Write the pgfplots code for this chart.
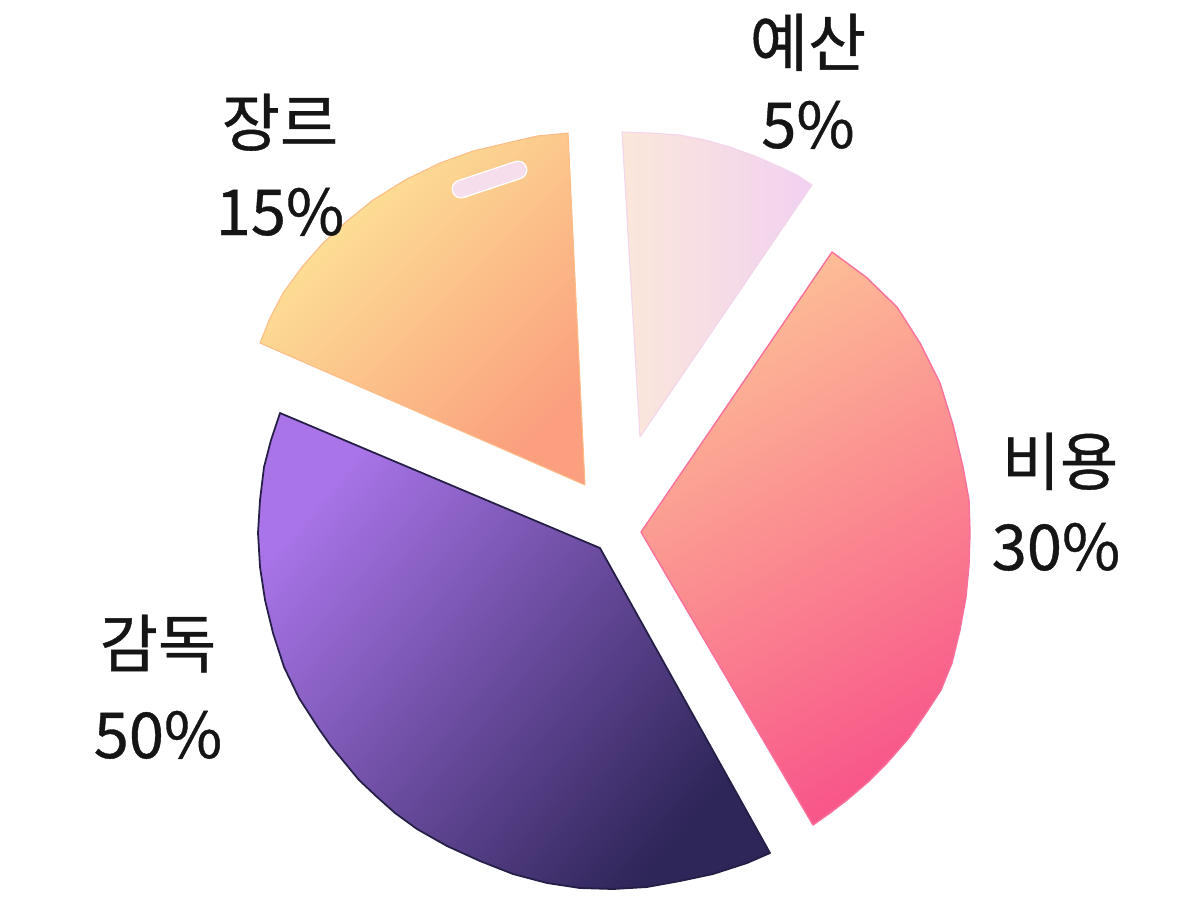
\documentclass[border=0pt]{standalone}
\usepackage{pgfplots}
\pgfplotsset{compat=1.18}
\usepackage{fontspec}
\newfontfamily\kr[FakeBold=0.6]{Noto Sans CJK KR}

\definecolor{txt}{HTML}{151515}
\definecolor{ylwA}{HTML}{FDE898}
\definecolor{ylwB}{HTML}{FB9F7E}
\definecolor{budA}{HTML}{FBE7DA}
\definecolor{budB}{HTML}{F1D1F1}
\definecolor{pnkA}{HTML}{FDBE96}
\definecolor{pnkM}{HTML}{FA8792}
\definecolor{pnkB}{HTML}{F8578A}
\definecolor{prpA}{HTML}{A874E8}
\definecolor{prpM}{HTML}{533C8A}
\definecolor{prpB}{HTML}{2E2558}

\tikzset{lbl/.style={anchor=base, text=txt, font=\kr\fontsize{18}{22}\selectfont}}

% wedge outlines, in pixels of the reference (y down)
% 감독 50%
\pgfplotstableread{
x y
280 413
600 548
770 853
747 863
713 874
680 881
647 887
613 889
580 888
547 883
513 874
480 861
447 846
417 829
395 813
376 796
359 780
345 763
331 746
319 729
299 698
284 667
273 633
265 600
260 567
258 533
260 500
264 467
271 440
280 413
}\gamdok
% 비용 30%
\pgfplotstableread{
x y
641 532
832 252
866 277
897 307
920 343
940 383
953 425
963 467
969 500
970 533
969 565
966 597
960 630
952 663
941 690
926 713
908 739
887 763
868 782
847 800
830 813
813 825
641 532
}\biyong
% 장르 15%
\pgfplotstableread{
x y
585 485
260 343
270 318
283 293
302 267
323 243
347 221
373 200
405 180
440 163
473 151
507 143
537 136
568 133
585 485
}\jangreu
% 예산 5%
\pgfplotstableread{
x y
640 437
622 132
650 133
680 135
705 140
730 147
755 156
780 167
797 175
812 185
640 437
}\yesan

\begin{document}
\begin{tikzpicture}
\begin{axis}[
    width=11.98cm, height=8.96cm,
    scale only axis,
    xmin=0, xmax=1198,
    ymin=0, ymax=896,
    y dir=reverse,
    hide axis,
    clip=false,
    every axis plot/.append style={line join=round},
]
% keeps the page at the size of the reference
\addplot[draw=none, forget plot] coordinates {(0,0) (1198,896)};

\addplot[draw=prpB!80!black, line width=0.5pt, top color=prpA, middle color=prpM, bottom color=prpB, shading angle=50]
    table[x=x, y=y] {\gamdok} -- cycle;
\addplot[draw=pnkB!85!white, line width=0.4pt, top color=pnkA, middle color=pnkM, bottom color=pnkB, shading angle=30]
    table[x=x, y=y] {\biyong} -- cycle;
\addplot[draw=ylwB!60!ylwA, line width=0.3pt, top color=ylwA, bottom color=ylwB, shading angle=45]
    table[x=x, y=y] {\jangreu} -- cycle;
\addplot[draw=budB!80!budA, line width=0.3pt, left color=budA, right color=budB]
    table[x=x, y=y] {\yesan} -- cycle;

% highlight on the 장르 wedge
\addplot[draw=white, line width=5.4pt, line cap=round] coordinates {(461,189) (518,170)};
\addplot[draw={rgb,255:red,247;green,222;blue,236}, line width=4.6pt, line cap=round] coordinates {(461,189) (518,170)};

\node[lbl] at (axis cs:808,66) {예산};
\node[lbl] at (axis cs:808,148) {5\%};
\node[lbl] at (axis cs:280,146) {장르};
\node[lbl] at (axis cs:280,235) {15\%};
\node[lbl] at (axis cs:1060,485) {비용};
\node[lbl] at (axis cs:1056,570) {30\%};
\node[lbl] at (axis cs:158,667) {감독};
\node[lbl] at (axis cs:158,758) {50\%};
\end{axis}
\end{tikzpicture}
\end{document}
